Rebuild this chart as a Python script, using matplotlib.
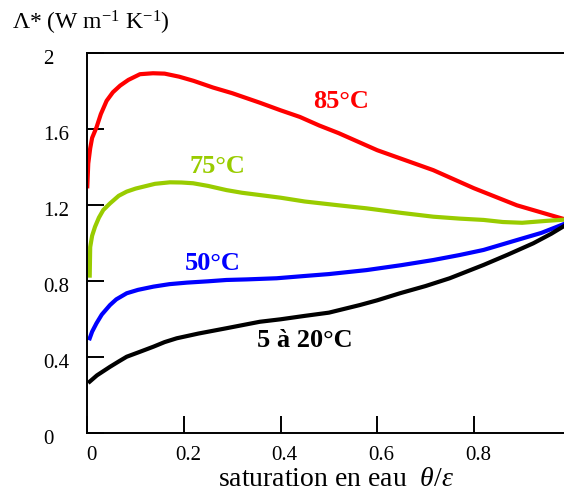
import matplotlib
matplotlib.use("Agg")
import matplotlib.pyplot as plt
import matplotlib.transforms as mtransforms

# water saturation theta/epsilon and apparent conductivity Lambda* (W m-1 K-1)
x_85 = [0, 0.002, 0.006, 0.01, 0.019, 0.028, 0.04, 0.053, 0.068, 0.085, 0.109,
        0.136, 0.16, 0.19, 0.22, 0.26, 0.3, 0.357, 0.4, 0.44, 0.48, 0.52, 0.6,
        0.716, 0.80, 0.889, 0.99]
y_85 = [1.30, 1.42, 1.50, 1.555, 1.61, 1.68, 1.75, 1.795, 1.83, 1.86, 1.89,
        1.895, 1.893, 1.877, 1.855, 1.82, 1.79, 1.74, 1.70, 1.665, 1.62, 1.58,
        1.49, 1.385, 1.29, 1.20, 1.125]

x_75 = [0.005, 0.006, 0.01, 0.016, 0.024, 0.033, 0.047, 0.065, 0.0815, 0.1,
        0.116, 0.14, 0.171, 0.195, 0.219, 0.25, 0.288, 0.32, 0.357, 0.4, 0.45,
        0.52, 0.578, 0.65, 0.716, 0.77, 0.82, 0.86, 0.9, 0.95, 0.99]
y_75 = [0.83, 0.98, 1.04, 1.087, 1.135, 1.175, 1.21, 1.25, 1.272, 1.288,
        1.298, 1.313, 1.321, 1.32, 1.316, 1.302, 1.28, 1.266, 1.254, 1.24, 1.22,
        1.20, 1.184, 1.16, 1.14, 1.13, 1.123, 1.112, 1.108, 1.118, 1.125]

x_50 = [0.005, 0.01, 0.019, 0.03, 0.047, 0.06, 0.0815, 0.105, 0.137, 0.17,
        0.206, 0.25, 0.288, 0.33, 0.392, 0.45, 0.5, 0.578, 0.65, 0.716, 0.77,
        0.82, 0.889, 0.94, 0.99]
y_50 = [0.50, 0.535, 0.579, 0.625, 0.675, 0.705, 0.737, 0.755, 0.772, 0.785,
        0.793, 0.80, 0.807, 0.81, 0.816, 0.828, 0.838, 0.859, 0.885, 0.912,
        0.938, 0.965, 1.017, 1.055, 1.105]

x_20 = [0.005, 0.02, 0.047, 0.065, 0.0815, 0.11, 0.137, 0.16, 0.185, 0.23,
        0.288, 0.357, 0.4, 0.45, 0.5, 0.564, 0.6, 0.647, 0.7, 0.75, 0.82, 0.87,
        0.923, 0.96, 0.99]
y_20 = [0.272, 0.305, 0.35, 0.378, 0.403, 0.43, 0.456, 0.48, 0.50, 0.525,
        0.553, 0.587, 0.60, 0.618, 0.635, 0.675, 0.70, 0.737, 0.775, 0.816,
        0.886, 0.94, 1.0, 1.05, 1.096]

xticks = [0, 0.2, 0.4, 0.6, 0.8, 1.0]
xticklabels = ["0", "0.2", "0.4", "0.6", "0.8", "1"]
yticks = [0, 0.4, 0.8, 1.2, 1.6, 2.0]
yticklabels = ["0", "0.4", "0.8", "1.2", "1.6", "2"]

plt.rcParams['font.family'] = ['Liberation Serif', 'DejaVu Serif']
plt.rcParams['mathtext.fontset'] = 'custom'
plt.rcParams['mathtext.rm'] = 'Liberation Serif'
plt.rcParams['mathtext.it'] = 'Liberation Serif:italic'

fig = plt.figure(figsize=(5.64, 5.0), dpi=100)
ax = fig.add_axes([87.3 / 564, 66.7 / 500, 483.2 / 564, 380 / 500])

lw = 3.0
ax.plot(x_85, y_85, color='#ff0000', lw=lw, solid_joinstyle='round')
ax.plot(x_75, y_75, color='#99cc00', lw=lw, solid_joinstyle='round')
ax.plot(x_50, y_50, color='#0000ff', lw=lw, solid_joinstyle='round')
ax.plot(x_20, y_20, color='#000000', lw=lw, solid_joinstyle='round')

lab = dict(fontsize=19, fontweight='bold', ha='center', va='center')
ax.text(0.525, 1.748, "85°C", color='#ff0000', **lab)
ax.text(0.27, 1.402, "75°C", color='#99cc00', **lab)
ax.text(0.26, 0.896, "50°C", color='#0000ff', **lab)
ax.text(0.45, 0.491, "5 à 20°C", color='#000000', **lab)

ax.set_xlim(0, 1)
ax.set_ylim(0, 2)
ax.set_xticks(xticks)
ax.set_xticklabels(xticklabels)
ax.set_yticks(yticks)
ax.set_yticklabels(yticklabels)
ax.tick_params(direction='in', length=12, width=1.4, labelsize=15)
ax.tick_params(axis='x', pad=9)
ax.tick_params(axis='y', pad=32)
for sp in ax.spines.values():
    sp.set_linewidth(1.4)

shift = mtransforms.ScaledTranslation(0, -4.3 / 72, fig.dpi_scale_trans)
for t in ax.get_yticklabels():
    t.set_horizontalalignment('left')
    t.set_verticalalignment('center')
    t.set_transform(t.get_transform() + shift)
shiftx = mtransforms.ScaledTranslation(3 / 72, 0, fig.dpi_scale_trans)
for t in ax.get_xticklabels():
    t.set_transform(t.get_transform() + shiftx)

fig.text(12 / 564, 1 - 30 / 500,
         r"$\mathit{Λ}$* (W m$^{\mathrm{-1}}$ K$^{\mathrm{-1}}$)",
         fontsize=17, ha='left', va='baseline')
fig.text(336 / 564, 1 - 486 / 500,
         r"saturation en eau  $\theta/\varepsilon$",
         fontsize=20, ha='center', va='baseline')

fig.savefig("out.png", dpi=100)
